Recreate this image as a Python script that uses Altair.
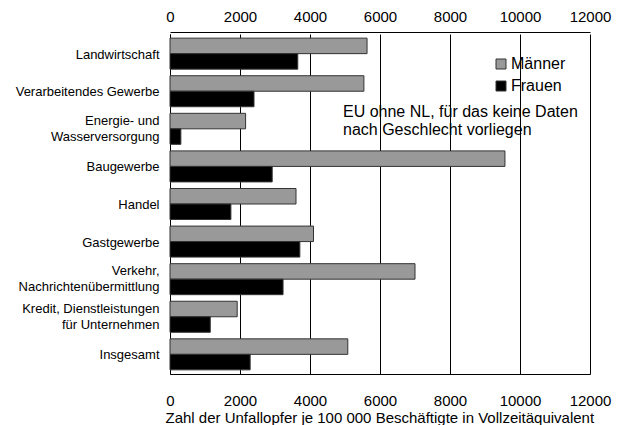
import altair as alt
import pandas as pd

categories = [
    "Landwirtschaft",
    "Verarbeitendes Gewerbe",
    "Energie- und\nWasserversorgung",
    "Baugewerbe",
    "Handel",
    "Gastgewerbe",
    "Verkehr,\nNachrichtenübermittlung",
    "Kredit, Dienstleistungen\nfür Unternehmen",
    "Insgesamt",
]
maenner = [5630, 5540, 2160, 9570, 3600, 4100, 7000, 1920, 5080]
frauen = [3650, 2400, 310, 2920, 1740, 3710, 3230, 1150, 2290]
groups = ["Männer", "Frauen"]
tick_values = [0, 2000, 4000, 6000, 8000, 10000, 12000]
x_title = "Zahl der Unfallopfer je 100 000 Beschäftigte in Vollzeitäquivalent"
note_lines = ["EU ohne NL, für das keine Daten", "nach Geschlecht vorliegen"]

rows = []
for c, m, f in zip(categories, maenner, frauen):
    rows.append({"Bereich": c, "Geschlecht": "Männer", "Wert": m})
    rows.append({"Bereich": c, "Geschlecht": "Frauen", "Wert": f})
df = pd.DataFrame(rows)

xscale = alt.Scale(domain=[0, 12000], nice=False, zero=True)

bars = alt.Chart(df).mark_bar(stroke="#333333", strokeWidth=1).encode(
    y=alt.Y(
        "Bereich:N",
        sort=categories,
        scale=alt.Scale(paddingInner=0.175, paddingOuter=0.11),
        axis=alt.Axis(
            title=None,
            labelExpr="split(datum.label, '\\n')",
            labelFontSize=13,
            labelPadding=11,
            labelLineHeight=16,
            labelLimit=300,
            labelOffset={"condition": {"test": "indexof(datum.value, '\\n') >= 0", "value": -8}, "value": 1},
            ticks=False,
            domainColor="black",
            labelColor="black",
        ),
    ),
    yOffset=alt.YOffset("Geschlecht:N", sort=groups, scale=alt.Scale(paddingInner=0, paddingOuter=0)),
    x=alt.X(
        "Wert:Q",
        scale=xscale,
        axis=alt.Axis(
            orient="bottom",
            title=x_title,
            values=tick_values,
            grid=True,
            gridColor="black",
            gridWidth=1,
            ticks=False,
            domainColor="black",
            labelColor="black",
            labelFontSize=15,
            labelPadding=19,
            labelFlush=False,
            titleFontSize=15,
            titleFontWeight="normal",
            titleColor="black",
            titlePadding=2,
            titleX=-5,
            titleAlign="left",
            titleAnchor="start",
            format="d",
        ),
    ),
    color=alt.Color(
        "Geschlecht:N",
        sort=groups,
        scale=alt.Scale(domain=groups, range=["#999999", "#000000"]),
        legend=alt.Legend(
            title=None,
            orient="none",
            legendX=323,
            legendY=22,
            symbolType="square",
            symbolSize=100,
            symbolStrokeColor="#333333",
            symbolStrokeWidth=1,
            labelFontSize=16,
            labelColor="black",
            labelOffset=2,
            rowPadding=6,
        ),
    ),
)

top_axis = alt.Chart(df).mark_point(opacity=0).encode(
    x=alt.X(
        "Wert:Q",
        scale=xscale,
        axis=alt.Axis(
            orient="top",
            title=None,
            values=tick_values,
            grid=False,
            ticks=False,
            offset=2,
            domainColor="black",
            labelColor="black",
            labelFontSize=15,
            labelPadding=8,
            labelFlush=False,
            format="d",
        ),
    ),
)

note = alt.Chart(pd.DataFrame({"t": [0]})).mark_text(
    align="left", baseline="middle", fontSize=16, lineHeight=18, color="black"
).encode(
    x=alt.value(173),
    y=alt.value(78),
    text=alt.value(note_lines),
)

chart = (
    alt.layer(bars, top_axis, note)
    .resolve_axis(x="independent")
    .properties(
        width=420,
        height=340,
        autosize=alt.AutoSizeParams(type="none"),
        padding={"left": 162, "top": 26, "right": 26, "bottom": 51},
        background="white",
    )
    .configure(font="Liberation Sans")
    .configure_view(strokeWidth=0)
)

chart.save("out.html", embed_options={"renderer": "svg", "actions": False})
